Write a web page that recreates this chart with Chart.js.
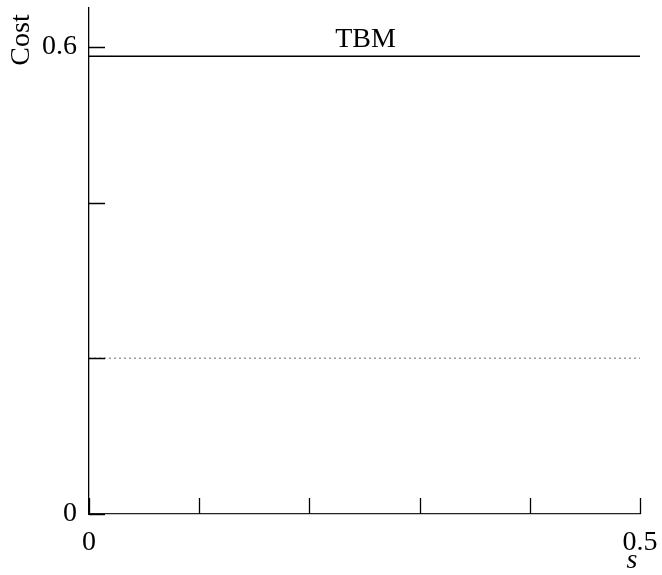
<!DOCTYPE html>
<html>
<head>
<meta charset="utf-8">
<script src="https://cdn.jsdelivr.net/npm/chart.js@4"></script>
<style>
  html, body { margin: 0; padding: 0; background: #fff; }
  #wrap { width: 662px; height: 575px; }
</style>
</head>
<body>
<div id="wrap"><canvas id="c" width="662" height="575"></canvas></div>
<script>
// ---- data ----
const sValues = [0, 0.5];
const tbmCost = [0.588, 0.588];
const refCost = [0.2, 0.2];
const xTickValues = [0, 0.1, 0.2, 0.3, 0.4, 0.5];
const xTickLabels = ['0', '', '', '', '', '0.5'];
const yTickValues = [0, 0.2, 0.4, 0.6];
const yTickLabels = ['0', '', '', '0.6'];
const seriesLabel = 'TBM';
const xTitle = 's';
const yTitle = 'Cost';

const FONT = '"Liberation Serif", "DejaVu Serif", serif';

function labelFor(values, labels, v) {
  for (let i = 0; i < values.length; i++) {
    if (Math.abs(values[i] - v) < 1e-9) return labels[i];
  }
  return '';
}

const decor = {
  id: 'decor',
  afterDraw(chart) {
    const ctx = chart.ctx;
    const xs = chart.scales.x, ys = chart.scales.y;
    const area = chart.chartArea;
    ctx.save();
    // inward tick marks
    ctx.strokeStyle = '#000';
    ctx.lineWidth = 1.3;
    ctx.beginPath();
    yTickValues.forEach(v => {
      const py = Math.round(ys.getPixelForValue(v)) + 0.5;
      ctx.moveTo(area.left, py);
      ctx.lineTo(area.left + 16, py);
    });
    xTickValues.forEach(v => {
      const px = Math.round(xs.getPixelForValue(v)) + 0.5;
      ctx.moveTo(px, area.bottom);
      ctx.lineTo(px, area.bottom - 16);
    });
    ctx.stroke();
    // series label
    ctx.fillStyle = '#000';
    ctx.font = '28px ' + FONT;
    ctx.textAlign = 'center';
    ctx.textBaseline = 'alphabetic';
    ctx.fillText(seriesLabel, xs.getPixelForValue(0.25) + 1, ys.getPixelForValue(tbmCost[0]) - 9);
    // x title
    ctx.font = 'italic 28px ' + FONT;
    ctx.fillText(xTitle, xs.getPixelForValue(0.5) - 8, 568);
    // y title
    ctx.translate(29, 40);
    ctx.rotate(-Math.PI / 2);
    ctx.font = '28px ' + FONT;
    ctx.fillText(yTitle, 0, 0);
    ctx.restore();
  }
};

new Chart(document.getElementById('c'), {
  type: 'line',
  data: {
    datasets: [
      {
        label: seriesLabel,
        data: sValues.map((s, i) => ({ x: s, y: tbmCost[i] })),
        borderColor: '#000',
        borderWidth: 1.6,
        pointRadius: 0,
        fill: false
      },
      {
        label: 'ref',
        data: sValues.map((s, i) => ({ x: s, y: refCost[i] })),
        borderColor: '#999',
        borderWidth: 1.5,
        borderDash: [2, 3],
        pointRadius: 0,
        fill: false
      }
    ]
  },
  plugins: [decor],
  options: {
    responsive: false,
    animation: false,
    devicePixelRatio: 1,
    layout: { padding: { top: 8, right: 22, left: 0, bottom: 0 } },
    plugins: { legend: { display: false }, tooltip: { enabled: false } },
    scales: {
      x: {
        type: 'linear',
        min: 0, max: 0.5,
        afterFit(scale) { scale.height = 61; scale.paddingLeft = 0; scale.paddingRight = 0; },
        afterBuildTicks(scale) { scale.ticks = xTickValues.map(v => ({ value: v })); },
        grid: { display: true, drawOnChartArea: false, drawTicks: false },
        border: { display: true, color: '#222', width: 1.3 },
        ticks: {
          autoSkip: false,
          maxRotation: 0,
          padding: 12,
          color: '#000',
          font: { family: FONT, size: 28 },
          callback: v => labelFor(xTickValues, xTickLabels, v)
        }
      },
      y: {
        type: 'linear',
        min: 0, max: 0.65,
        afterFit(scale) { scale.width = 89; scale.paddingTop = 0; scale.paddingBottom = 0; },
        afterBuildTicks(scale) { scale.ticks = yTickValues.map(v => ({ value: v })); },
        grid: { display: true, drawOnChartArea: false, drawTicks: false },
        border: { display: true, color: '#000', width: 1.3 },
        ticks: {
          autoSkip: false,
          padding: 12,
          color: '#000',
          font: { family: FONT, size: 28 },
          callback: v => labelFor(yTickValues, yTickLabels, v)
        }
      }
    }
  }
});
</script>
</body>
</html>
